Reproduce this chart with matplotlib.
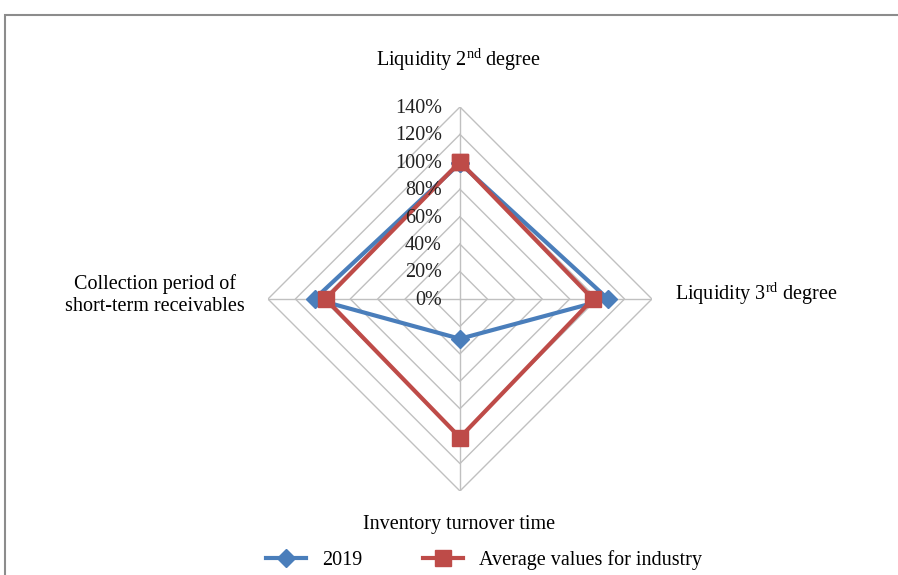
import numpy as np
import matplotlib
matplotlib.use("Agg")
import matplotlib.pyplot as plt
from matplotlib.patches import Rectangle

plt.rcParams['font.family'] = ['Liberation Serif', 'DejaVu Serif']
plt.rcParams['mathtext.fontset'] = 'custom'
plt.rcParams['mathtext.rm'] = 'Liberation Serif'

# data
categories = ['Liquidity 2$^{\\rm nd}$ degree', 'Liquidity 3$^{\\rm rd}$ degree',
              'Inventory turnover time', 'Collection period of\nshort-term receivables']
series_2019 = [99, 108, 29, 106]
series_avg = [100, 97, 101, 98]
r_ticks = [0, 20, 40, 60, 80, 100, 120, 140]
r_labels = ['%d%%' % v for v in r_ticks]

# axes order: top, right, bottom, left
theta = np.array([np.pi / 2, 0, -np.pi / 2, np.pi])
theta_c = np.append(theta, theta[0])

fs = 14.5
fig = plt.figure(figsize=(8.98, 5.75), dpi=100)
ax = fig.add_axes([0.2984, 0.1461, 0.4276, 0.6678], projection='polar')
ax.set_ylim(0, 140)
ax.grid(False)
ax.spines['polar'].set_visible(False)
ax.set_xticks([])
ax.set_yticks([])
ax.patch.set_alpha(0)

gc = '#c0c0c0'
for r in r_ticks[1:]:
    ax.plot(theta_c, [r] * 5, color=gc, lw=1, zorder=1)
for t in theta:
    ax.plot([t, t], [0, 140], color=gc, lw=1, zorder=1)

ax.plot(theta_c, series_2019 + series_2019[:1], color='#4a7ebb', lw=3,
        marker='D', markersize=9, label='2019', zorder=3, clip_on=False)
ax.plot(theta_c, series_avg + series_avg[:1], color='#be4b48', lw=3,
        marker='s', markersize=11, label='Average values for industry', zorder=4, clip_on=False)

for r, lab in zip(r_ticks, r_labels):
    ax.annotate(lab, xy=(np.pi / 2, r), xytext=(-13, -1), textcoords='offset points',
                ha='right', va='center', fontsize=fs, color='#222222', zorder=5)

# category labels
fig.text(458 / 898, 1 - 60 / 575, categories[0], ha='center', va='center', fontsize=fs)
fig.text(675 / 898, 1 - 294 / 575, categories[1], ha='left', va='center', fontsize=fs)
fig.text(459 / 898, 1 - 525 / 575, categories[2], ha='center', va='center', fontsize=fs)
fig.text(245 / 898, 1 - 295 / 575, categories[3], ha='right', va='center', fontsize=fs,
         multialignment='center', linespacing=1.2)

fig.legend(loc='center', bbox_to_anchor=(484 / 898, 1 - 560 / 575), ncol=2, frameon=False,
           fontsize=fs, handlelength=2.0, columnspacing=3.0, handletextpad=0.8)

fig.patches.append(Rectangle((5 / 898, -0.1), 1.2, 0.1 + 1 - 15 / 575, transform=fig.transFigure,
                             fill=False, edgecolor='#8c8c8c', lw=1.5))

fig.savefig('out.png', dpi=100)
